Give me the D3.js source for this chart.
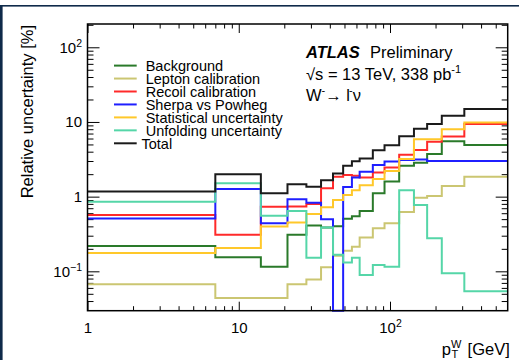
<!DOCTYPE html>
<html><head><meta charset="utf-8">
<script src="https://cdn.jsdelivr.net/npm/d3@7"></script>
<style>
body{margin:0;background:#fff;}
svg{display:block;font-family:"Liberation Sans",Arial,Helvetica,sans-serif;}
</style></head><body>
<svg id="c" width="519" height="360"></svg>
<script>
// ---- data ----
const binEdges = [1,7,14,21,28,35,42,49,56,63,77,92,115,144,176,220,310,600];
const seriesNames = ["Background","Lepton calibration","Recoil calibration","Sherpa vs Powheg","Statistical uncertainty","Unfolding uncertainty","Total"];
const background = [0.218,0.154,0.115,0.31,0.41,0.385,0.40,0.505,0.545,0.64,1.11,1.59,2.6,2.85,3.72,5.5,4.92];
const lepton     = [0.067,0.044,0.044,0.067,0.078,0.113,0.162,0.189,0.214,0.284,0.377,0.44,0.625,0.97,1.02,1.39,1.85];
const recoil     = [0.57,0.31,0.73,0.74,0.80,1.3,1.85,1.95,1.9,1.8,2.1,2.45,3.65,4.2,5.45,6.4,9.4];
const sherpa     = [0.51,1.27,0.44,0.92,0.83,0.50,0,1.35,1.8,2.15,2.65,2.95,3.1,3.15,3.0,3.0,3.0];
const statistical= [0.176,0.206,0.397,0.45,0.586,0.72,0.9,1.05,1.22,1.42,1.72,2.2,3.2,5.85,5.85,8.0,9.85];
const unfolding  = [0.857,1.51,0.553,0.643,0.152,0.385,0.167,0.131,0.152,0.089,0.122,0.115,1.22,0.773,0.277,0.094,0.054];
const total      = [1.17,2.0,1.11,1.46,1.36,1.66,2.04,2.6,2.98,3.25,4.17,4.87,6.42,8.1,9.4,12.1,14.9];
const seriesValues = [background,lepton,recoil,sherpa,statistical,unfolding,total];
const xTickValues = [1,10,100];
const xTickLabels = [["1",""],["10",""],["10","2"]];
const yTickValues = [0.1,1,10,100];
const yTickLabels = [["10","\u22121"],["1",""],["10",""],["10","2"]];

// ---- styles ----
const seriesColors = ["#2a7a2a","#cbc672","#ff2a2a","#1f1fff","#ffc82a","#55d6a8","#1a1a1a"];

const svg = d3.select("#c");
const m = {l:87.5, r:507.7, t:24, b:310.7};
const x = d3.scaleLog().domain([1,600]).range([m.l,m.r]);
const yMin = 0.0297, yMax = 205;
const y = d3.scaleLog().domain([yMin,yMax]).range([m.b,m.t]);

// page border
svg.append("rect").attr("x",0).attr("y",5).attr("width",519).attr("height",1.6).attr("fill","#0f2a4a");
svg.append("rect").attr("x",0).attr("y",5).attr("width",2.6).attr("height",355).attr("fill","#0f2a4a");

// minor ticks
const xMinor=[]; [1,10,100].forEach(d=>{for(let k=2;k<=9;k++){const v=k*d; if(v<600) xMinor.push(v);}});
const yMinor=[]; [0.01,0.1,1,10,100].forEach(d=>{for(let k=2;k<=9;k++){const v=+(k*d).toPrecision(3); if(v>yMin*1.02&&v<yMax) yMinor.push(v);}});

function clean(g){g.select(".domain").remove(); g.attr("font-size",null).attr("font-family",null); g.selectAll("line").attr("stroke","#000").attr("stroke-width",1);}

svg.append("g").attr("transform",`translate(0,${m.b})`).call(d3.axisBottom(x).tickValues(xMinor).tickSize(-4.5).tickFormat("")).call(clean);
svg.append("g").attr("transform",`translate(0,${m.t})`).call(d3.axisTop(x).tickValues(xMinor).tickSize(-4.5).tickFormat("")).call(clean);
svg.append("g").attr("transform",`translate(${m.l},0)`).call(d3.axisLeft(y).tickValues(yMinor).tickSize(-6).tickFormat("")).call(clean);
svg.append("g").attr("transform",`translate(${m.r},0)`).call(d3.axisRight(y).tickValues(yMinor).tickSize(-6).tickFormat("")).call(clean);

const gx = svg.append("g").attr("transform",`translate(0,${m.b})`).call(d3.axisBottom(x).tickValues(xTickValues).tickSize(-9).tickPadding(11.5).tickFormat(()=>"")).call(clean);
svg.append("g").attr("transform",`translate(0,${m.t})`).call(d3.axisTop(x).tickValues(xTickValues).tickSize(-9).tickFormat("")).call(clean);
const gy = svg.append("g").attr("transform",`translate(${m.l},0)`).call(d3.axisLeft(y).tickValues(yTickValues).tickSize(-12).tickPadding(5.5).tickFormat(()=>"")).call(clean);
svg.append("g").attr("transform",`translate(${m.r},0)`).call(d3.axisRight(y).tickValues(yTickValues).tickSize(-12).tickFormat("")).call(clean);

function label(sel, labels){
  sel.selectAll(".tick text").each(function(d,i){
    const t=d3.select(this).attr("font-size",15).attr("fill","#000");
    const [b,e]=labels[i];
    t.append("tspan").text(b);
    if(e){ t.append("tspan").attr("font-size",10.5).attr("dy","-0.55em").text(e); }
  });
}
label(gx,xTickLabels);
label(gy,yTickLabels);

// histograms
const line = d3.line().curve(d3.curveStepAfter).x(d=>x(d[0])).y(d=>y(Math.max(d[1],yMin)));
seriesValues.forEach((vals,si)=>{
  const pts = vals.map((v,i)=>[binEdges[i],v]);
  pts.push([binEdges[binEdges.length-1], vals[vals.length-1]]);
  svg.append("path").attr("d",line(pts)).attr("fill","none").attr("stroke",seriesColors[si]).attr("stroke-width",2);
});

// frame
svg.append("rect").attr("x",m.l).attr("y",m.t).attr("width",m.r-m.l).attr("height",m.b-m.t).attr("fill","none").attr("stroke","#000").attr("stroke-width",1.5);

// legend
const leg = svg.append("g");
seriesNames.forEach((n,i)=>{
  const yy = 65.6 + i*12.95;
  leg.append("line").attr("x1",114).attr("x2",136.7).attr("y1",yy).attr("y2",yy).attr("stroke",seriesColors[i]).attr("stroke-width",2);
  leg.append("text").attr("x", i===6?141.5:145.7).attr("y",yy).attr("dy","0.36em").attr("font-size",14.5).text(n);
});

// labels
const t1 = svg.append("text").attr("x",306).attr("y",57.5).attr("font-size",16.5);
t1.append("tspan").attr("font-weight","bold").attr("font-style","italic").text("ATLAS");
t1.append("tspan").attr("x",370).text("Preliminary");
const t2 = svg.append("text").attr("x",306).attr("y",79.5).attr("font-size",16.5);
t2.append("tspan").text("\u221As = 13 TeV, 338 pb");
t2.append("tspan").attr("font-size",11).attr("dy",-7).text("-1");
const t3 = svg.append("text").attr("x",306).attr("y",101).attr("font-size",16.5);
t3.append("tspan").text("W");
t3.append("tspan").attr("font-size",11).attr("dy",-7).text("-");
t3.append("tspan").attr("dy",7).text("\u2192 l");
t3.append("tspan").attr("font-size",11).attr("dy",-7).attr("dx",-1).text("-");
t3.append("tspan").attr("dy",7).text("\u03BD");

// axis titles
svg.append("text").attr("transform","translate(33,25) rotate(-90)").attr("text-anchor","end").attr("font-size",16.5).text("Relative uncertainty [%]");
const xt = svg.append("text").attr("x",441.7).attr("y",354.5).attr("font-size",16.5);
xt.append("tspan").text("p");
xt.append("tspan").attr("font-size",11).attr("dy",-7).text("W");
xt.append("tspan").attr("font-size",11).attr("x",451.5).attr("dy",10.5).text("T");
xt.append("tspan").attr("x",463).attr("dy",-3.5).text(" [GeV]");
</script>
</body></html>
